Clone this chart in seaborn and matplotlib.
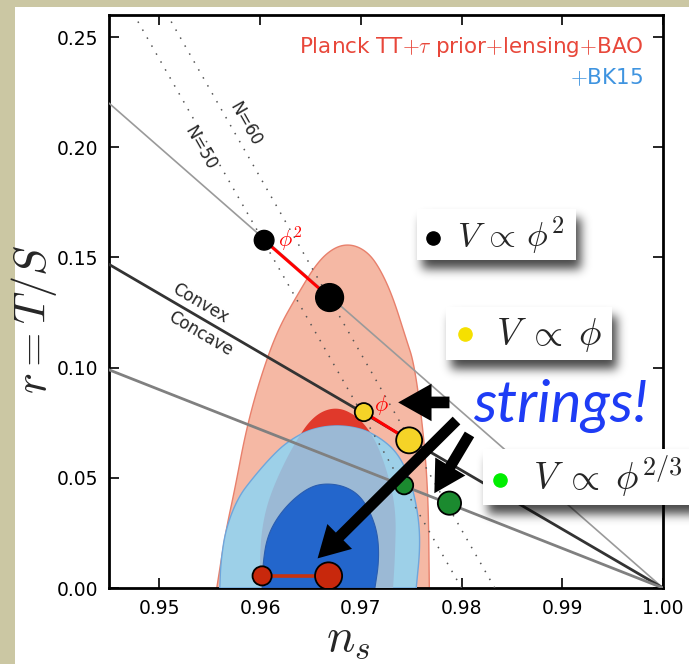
import numpy as np
import matplotlib
matplotlib.use("Agg")
import matplotlib.pyplot as plt
from matplotlib.patches import Rectangle
from matplotlib.lines import Line2D
import seaborn as sns

# ===================== DATA =====================
# Planck TT+tau prior+lensing+BAO, 95% and 68% regions (n_s, r)
planck95_ns = [0.9557, 0.9566, 0.9575, 0.9586, 0.9600, 0.9617, 0.9637, 0.9657, 0.9675,
               0.9692, 0.9708, 0.9720, 0.9732, 0.9745, 0.9753, 0.9762, 0.9767, 0.9768]
planck95_r = [0.0, 0.026, 0.045, 0.0715, 0.095, 0.1167, 0.1330, 0.1480, 0.1550,
              0.1560, 0.1520, 0.1440, 0.1318, 0.113, 0.1018, 0.0715, 0.0413, 0.0]
planck68_ns = [0.9600, 0.9600, 0.9605, 0.9615, 0.9632, 0.9652, 0.9675, 0.9697, 0.9714,
               0.9727, 0.9735, 0.9734, 0.9732]
planck68_r = [0.0, 0.020, 0.035, 0.048, 0.064, 0.078, 0.0825, 0.078, 0.068,
              0.052, 0.035, 0.015, 0.0]
# +BK15
bk95_ns = [0.9560, 0.9561, 0.9566, 0.9578, 0.9593, 0.9610, 0.9626, 0.9648, 0.9674,
           0.9700, 0.9720, 0.9737, 0.9749, 0.9757, 0.9759, 0.9755]
bk95_r = [0.0, 0.012, 0.027, 0.041, 0.050, 0.059, 0.066, 0.0718, 0.0740,
          0.0725, 0.068, 0.061, 0.0495, 0.0338, 0.0187, 0.0]
bk68_ns = [0.9602, 0.9603, 0.9607, 0.9617, 0.9632, 0.9650, 0.9666, 0.9684, 0.9699,
           0.9710, 0.9717, 0.9718, 0.9714]
bk68_r = [0.0, 0.012, 0.023, 0.032, 0.040, 0.046, 0.0475, 0.0462, 0.042,
          0.034, 0.024, 0.012, 0.0]

# lines through (1, 0): r = slope * (1 - n_s)
line_ns = [0.945, 1.0]
slope_phi2 = 4.0
slope_convex = 2.67
slope_low = 1.8

# e-fold lines
efold_r = [0.0, 0.26]
n50_ns = [0.9800, 0.9475]
n60_ns = [0.9833, 0.9508]

# model points (N=50 small, N=60 large)
phi2_ns = [0.9604, 0.9669]
phi2_r = [0.1578, 0.1318]
phi1_ns = [0.9703, 0.9748]
phi1_r = [0.0798, 0.0670]
phi23_ns = [0.9743, 0.9788]
phi23_r = [0.0466, 0.0385]
r2_ns = [0.9602, 0.9668]
r2_r = [0.0055, 0.0055]

x_ticks = [0.95, 0.96, 0.97, 0.98, 0.99, 1.00]
y_ticks = [0.00, 0.05, 0.10, 0.15, 0.20, 0.25]


def chaikin(xs, ys, n=4):
    # corner cutting so the read-off outlines come out smooth, end points kept
    p = np.column_stack([xs, ys])
    for _ in range(n):
        q = 0.75 * p[:-1] + 0.25 * p[1:]
        r = 0.25 * p[:-1] + 0.75 * p[1:]
        mid = np.empty((2 * len(q), 2))
        mid[0::2] = q
        mid[1::2] = r
        p = np.vstack([p[:1], mid, p[-1:]])
    return p[:, 0], p[:, 1]


# ===================== FIGURE =====================
sns.set_style("ticks")
plt.rcParams["font.family"] = ["DejaVu Sans"]
plt.rcParams["mathtext.fontset"] = "cm"

W, H = 689, 664
fig = plt.figure(figsize=(W / 100, H / 100), dpi=100, facecolor="#cbc7a3")


def fx(x):
    return x / W


def fy(y):
    return 1 - y / H


# white slide panel
fig.add_artist(Rectangle((fx(15), 0), 1, fy(7), transform=fig.transFigure,
                         facecolor="white", edgecolor="none", zorder=-5))

ax = fig.add_axes([fx(109), fy(588), fx(663) - fx(109), fy(15) - fy(588)])
ax.set_facecolor("white")

# contours
ax.fill(*chaikin(planck95_ns, planck95_r), facecolor="#f5b8a4", edgecolor="#e8806c", lw=1, zorder=1)
ax.fill(*chaikin(planck68_ns, planck68_r), facecolor="#e0392b", edgecolor="none", zorder=2)
bk95_patch = ax.fill(*chaikin(bk95_ns, bk95_r), facecolor="#9dd0e8", edgecolor="#6ea6dc",
                     lw=1, zorder=3)[0]
overlap = ax.fill(*chaikin(planck68_ns, planck68_r), facecolor="#9bb9d5", edgecolor="none", zorder=4)[0]
overlap.set_clip_path(bk95_patch)
ax.fill(*chaikin(bk68_ns, bk68_r), facecolor="#2366cc", edgecolor="#2a5db0", lw=0.8, zorder=5)

# model lines
ns_arr = np.array(line_ns)
sns.lineplot(x=ns_arr, y=slope_phi2 * (1 - ns_arr), color="#9a9a9a", lw=1.2, ax=ax, zorder=6)
sns.lineplot(x=ns_arr, y=slope_convex * (1 - ns_arr), color="#333333", lw=2, ax=ax, zorder=6)
sns.lineplot(x=ns_arr, y=slope_low * (1 - ns_arr), color="#808080", lw=2, ax=ax, zorder=6)
ax.plot(n50_ns, efold_r, color="#555555", lw=1.1, ls=(0, (1, 5)), zorder=6)
ax.plot(n60_ns, efold_r, color="#555555", lw=1.1, ls=(0, (1, 5)), zorder=6)

# connecting segments
ax.plot(phi2_ns, phi2_r, color="#ff0000", lw=2.2, zorder=7)
ax.plot(phi1_ns, phi1_r, color="#ff0000", lw=2.2, zorder=7)
ax.plot(r2_ns, r2_r, color="#c8320f", lw=2.6, zorder=7)

# points
sns.scatterplot(x=phi2_ns, y=phi2_r, s=[200, 400], color="black", edgecolor="black",
                linewidth=1, ax=ax, zorder=8, legend=False)
sns.scatterplot(x=phi1_ns, y=phi1_r, s=[170, 350], color="#f5d327", edgecolor="black",
                linewidth=1.3, ax=ax, zorder=8, legend=False)
sns.scatterplot(x=phi23_ns, y=phi23_r, s=[170, 280], color="#1b8a2f", edgecolor="black",
                linewidth=1.3, ax=ax, zorder=8, legend=False)
sns.scatterplot(x=r2_ns, y=r2_r, s=[190, 380], color="#c8280c", edgecolor="black",
                linewidth=1.3, ax=ax, zorder=8, legend=False)

ax.text(0.9630, 0.1580, r"$\phi^2$", color="#ff0000", fontsize=16, ha="center", va="center", zorder=9)
ax.text(0.9720, 0.0830, r"$\phi$", color="#ff0000", fontsize=16, ha="center", va="center", zorder=9)

ax.text(0.9541, 0.1995, "N=50", rotation=-60.4, rotation_mode="anchor", ha="center", va="center",
        fontsize=12, zorder=9)
ax.text(0.95856, 0.2104, "N=60", rotation=-60.4, rotation_mode="anchor", ha="center", va="center",
        fontsize=12, zorder=9)
ax.text(0.9541, 0.1290, "Convex", rotation=-30.4, rotation_mode="anchor", ha="center", va="center",
        fontsize=12, zorder=9)
ax.text(0.9541, 0.1154, "Concave", rotation=-30.4, rotation_mode="anchor", ha="center", va="center",
        fontsize=12, zorder=9)

# arrows
arrow_kw = dict(arrowstyle="simple,head_length=0.8,head_width=0.9,tail_width=0.28",
                color="black", lw=0, shrinkA=0, shrinkB=0)
ax.annotate("", xy=(0.97371, 0.0842), xytext=(0.97880, 0.0842),
            arrowprops=dict(arrow_kw, mutation_scale=30), zorder=10)
ax.annotate("", xy=(0.96571, 0.01344), xytext=(0.97950, 0.0760),
            arrowprops=dict(arrow_kw, mutation_scale=28), zorder=10)
ax.annotate("", xy=(0.97730, 0.0430), xytext=(0.98079, 0.0697),
            arrowprops=dict(arrow_kw, mutation_scale=28), zorder=10)

# axes styling
ax.set_xlim(0.945, 1.0)
ax.set_ylim(0, 0.26)
ax.set_xticks(x_ticks)
ax.set_yticks(y_ticks)
ax.set_xticklabels([f"{v:.2f}" for v in x_ticks])
ax.set_yticklabels([f"{v:.2f}" for v in y_ticks])
ax.tick_params(direction="in", length=7, width=1.2, top=True, right=True,
               labelsize=13.5, pad=8, colors="black")
for sp in ax.spines.values():
    sp.set_linewidth(2)
    sp.set_color("black")
fig.text(fx(348), fy(651), r"$n_s$", fontsize=34, ha="center", va="baseline")
fig.text(fx(34), fy(319), r"$r = T/S$", fontsize=32, rotation=90, ha="center", va="center")

# dataset labels
fig.text(fx(643), fy(53), r"Planck TT$+\tau$ prior$+$lensing$+$BAO", color="#e8473a",
         fontsize=15.5, ha="right", va="baseline")
fig.text(fx(643), fy(84), r"$+$BK15", color="#3f94e0", fontsize=15.5, ha="right", va="baseline")


# legend-like boxes with soft drop shadows
def shadow_box(x0, y0, x1, y1, dx=5, dy=9, blur=5.0):
    pad = int(3 * blur)
    w, h = x1 - x0, y1 - y0
    mask = np.zeros((h + 2 * pad, w + 2 * pad))
    mask[pad:pad + h, pad:pad + w] = 1.0
    k = np.exp(-0.5 * (np.arange(-pad, pad + 1) / blur) ** 2)
    k /= k.sum()
    mask = np.apply_along_axis(lambda v: np.convolve(v, k, mode="same"), 0, mask)
    mask = np.apply_along_axis(lambda v: np.convolve(v, k, mode="same"), 1, mask)
    rgba = np.zeros(mask.shape + (4,))
    rgba[..., 3] = 0.72 * mask
    fig.figimage(rgba, xo=x0 + dx - pad, yo=H - (y1 + dy + pad), zorder=20)
    fig.add_artist(Rectangle((fx(x0), fy(y1)), fx(w), fy(0) - fy(h),
                             transform=fig.transFigure, facecolor="white",
                             edgecolor="none", zorder=21))


shadow_box(417, 209, 576, 260)
shadow_box(446, 307, 612, 360)
shadow_box(483, 449, 730, 505)

box_dots = [(433, 238, "black"), (465, 334, "#f5e000"), (500, 480, "#00ee00")]
for x, y, c in box_dots:
    fig.add_artist(Line2D([fx(x)], [fy(y)], marker="o", markersize=9.5, color=c,
                          transform=fig.transFigure, zorder=22))
fig.text(fx(457), fy(247), r"$V\,\propto\,\phi^2$", fontsize=25, va="baseline", zorder=22)
fig.text(fx(496), fy(345), r"$V\;\propto\;\phi$", fontsize=27, va="baseline", zorder=22)
fig.text(fx(533), fy(490), r"$V\;\propto\;\phi^{2/3}$", fontsize=27, va="baseline", zorder=22)

fig.text(fx(560), fy(422), "strings!", color="#1e3cf5", fontsize=42, style="italic",
         family="Lato", ha="center", va="baseline", zorder=23)

fig.savefig("out.png", dpi=100, facecolor=fig.get_facecolor())
